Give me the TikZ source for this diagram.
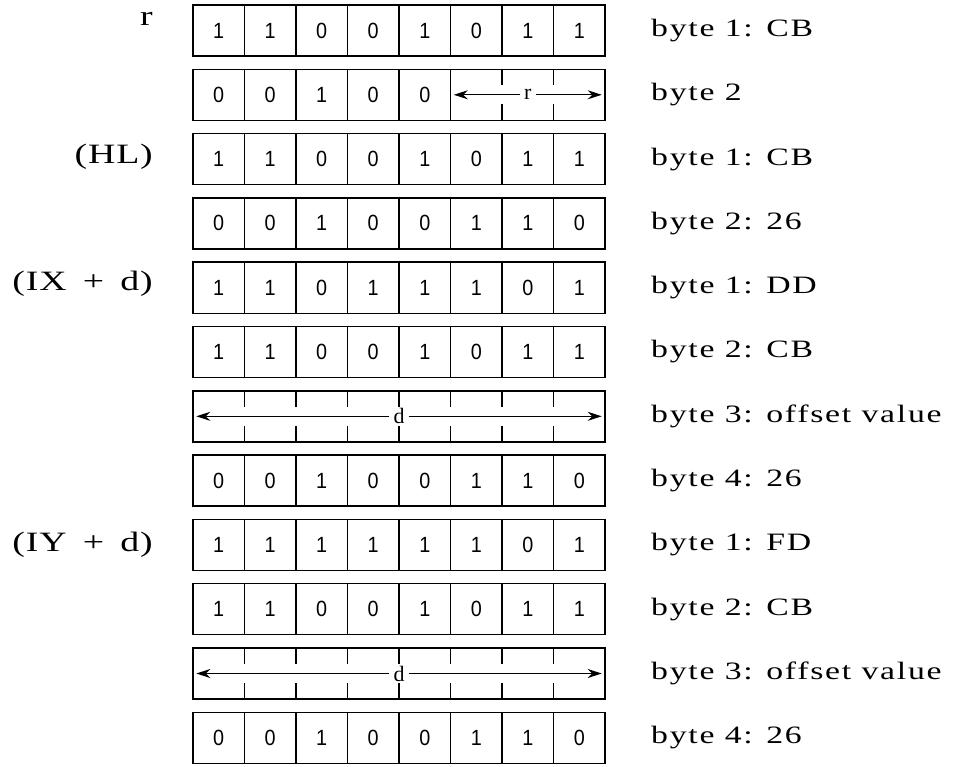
\documentclass[tikz,border=0pt]{standalone}
\usepackage{fontspec}
\setmainfont{Liberation Serif}
\newfontfamily\rlblfont[FakeStretch=1.35, LetterSpace=7]{Liberation Serif}
\newfontfamily\llblfont[FakeStretch=1.35, LetterSpace=3]{Liberation Serif}
\newfontfamily\bitfont[FakeStretch=0.9]{Liberation Sans}
\usetikzlibrary{arrows.meta}
\begin{document}
\begin{tikzpicture}[x=1pt,y=-1pt,
  bitbox/.style={draw, line width=1.4pt, minimum width=51.5pt, minimum height=51pt, inner sep=0pt,
    font=\bitfont\fontsize{22}{22}\selectfont},
  spanbox/.style={draw, line width=1.4pt, minimum height=51pt, inner sep=0pt},
  spanlbl/.style={inner sep=4pt, font=\fontsize{22}{22}\selectfont},
  spanarrow/.style={line width=1.1pt, -{Stealth[length=14pt,width=9pt]}},
  tickline/.style={line width=1.1pt},
  rlbl/.style={anchor=west, inner sep=0pt, font=\rlblfont\fontsize{25}{25}\selectfont},
  llbl/.style={anchor=east, inner sep=0pt, font=\llblfont\fontsize{28}{28}\selectfont}]
\useasboundingbox (0,0) rectangle (955,767);

% bit cells
\foreach \r/\bits in {1/{1,1,0,0,1,0,1,1},2/{0,0,1,0,0},3/{1,1,0,0,1,0,1,1},4/{0,0,1,0,0,1,1,0},
  5/{1,1,0,1,1,1,0,1},6/{1,1,0,0,1,0,1,1},8/{0,0,1,0,0,1,1,0},9/{1,1,1,1,1,1,0,1},
  10/{1,1,0,0,1,0,1,1},12/{0,0,1,0,0,1,1,0}}{
  \pgfmathsetmacro{\y}{30.5+64.3*(\r-1)}
  \foreach \b [count=\c] in \bits {
    \node[bitbox] (b\r-\c) at ({167.25+51.5*\c},\y) {\b};
  }
}

% row 2: register field r
\node[spanbox, minimum width=154.5pt] (m2) at (527.75,94.8) {};
\node[spanlbl] (t2) at (m2.center) {r};
\draw[spanarrow] (t2.west) -- ([xshift=4pt]m2.west);
\draw[spanarrow] (t2.east) -- ([xshift=-4pt]m2.east);
\foreach \c in {6,7} {
  \draw[tickline] ({193+51.5*\c},69.3) -- ++(0,16);
  \draw[tickline] ({193+51.5*\c},120.3) -- ++(0,-16);
}

% rows 7 and 11: displacement d
\foreach \r in {7,11} {
  \pgfmathsetmacro{\y}{30.5+64.3*(\r-1)}
  \node[spanbox, minimum width=412pt] (m\r) at (399,\y) {};
  \node[spanlbl] (t\r) at (m\r.center) {d};
  \draw[spanarrow] (t\r.west) -- ([xshift=4pt]m\r.west);
  \draw[spanarrow] (t\r.east) -- ([xshift=-4pt]m\r.east);
  \foreach \c in {1,...,7} {
    \draw[tickline] ({193+51.5*\c},\y-25.5) -- ++(0,16);
    \draw[tickline] ({193+51.5*\c},\y+25.5) -- ++(0,-16);
  }
}

% right labels
\foreach \r/\txt in {1/{byte 1: CB},2/{byte 2},3/{byte 1: CB},4/{byte 2: 26},5/{byte 1: DD},
  6/{byte 2: CB},7/{byte 3: offset value},8/{byte 4: 26},9/{byte 1: FD},10/{byte 2: CB},
  11/{byte 3: offset value},12/{byte 4: 26}}{
  \pgfmathsetmacro{\y}{30.5+64.3*(\r-1)}
  \node[rlbl] (L\r) at (651,\y) {\txt};
}

% left labels
\node[llbl] (A1) at (153,19) {r};
\node[llbl] (A3) at (153,157) {(HL)};
\node[llbl] (A5) at (153,284) {(IX\hspace{6pt} + \hspace{6pt}d)};
\node[llbl] (A9) at (153,545) {(IY\hspace{6pt} + \hspace{6pt}d)};
\end{tikzpicture}
\end{document}
